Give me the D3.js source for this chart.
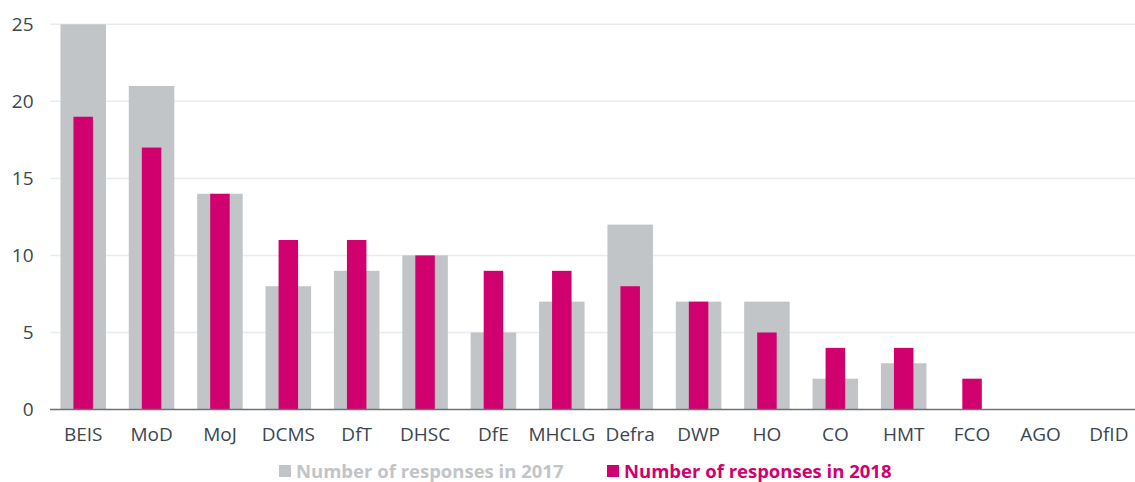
<!DOCTYPE html>
<html>
<head>
<meta charset="utf-8">
<script src="https://cdn.jsdelivr.net/npm/d3@7"></script>
<style>
	body { margin: 0; background: #fff; }
	svg { display: block; font-family: "Open Sans", sans-serif; }
	.tick text { fill: #3b4650; }
</style>
</head>
<body>
<svg id="viz" width="1135" height="482"></svg>
<script>
var departments = ["BEIS", "MoD", "MoJ", "DCMS", "DfT", "DHSC", "DfE", "MHCLG", "Defra", "DWP", "HO", "CO", "HMT", "FCO", "AGO", "DfID"];
var responses2017 = [25, 21, 14, 8, 9, 10, 5, 7, 12, 7, 7, 2, 3, 0, 0, 0];
var responses2018 = [19, 17, 14, 11, 11, 10, 9, 9, 8, 7, 5, 4, 4, 2, 0, 0];
var yTicks = [0, 5, 10, 15, 20, 25];
var seriesNames = ["Number of responses in 2017", "Number of responses in 2018"];

function drawResponsesChart() {
	var svg = d3.select("#viz");
	var margin = { left: 49, top: 24, bottom: 73 };
	var plotBottom = 482 - margin.bottom + 0.5;

	var x = d3.scaleBand().domain(departments).range([margin.left, 1143]).paddingInner(0.334).paddingOuter(0.167);
	var y = d3.scaleLinear().domain([0, 25]).range([plotBottom, margin.top + 0.3]);

	// gridlines
	svg.append("g")
		.selectAll("line")
		.data(yTicks.slice(1))
		.join("line")
		.attr("x1", 50).attr("x2", 1135)
		.attr("y1", function(d) { return y(d); })
		.attr("y2", function(d) { return y(d); })
		.attr("stroke", "#e8ecf0")
		.attr("stroke-width", 1.5);

	// 2017 bars (wide, grey)
	svg.append("g")
		.selectAll("rect")
		.data(departments)
		.join("rect")
		.attr("x", function(d) { return x(d); })
		.attr("width", x.bandwidth())
		.attr("y", function(d, i) { return y(responses2017[i]); })
		.attr("height", function(d, i) { return plotBottom - y(responses2017[i]); })
		.attr("fill", "#c2c5c8");

	// 2018 bars (narrow, pink)
	var pinkW = 19.5;
	svg.append("g")
		.selectAll("rect")
		.data(departments)
		.join("rect")
		.attr("x", function(d) { return x(d) + (x.bandwidth() - pinkW) / 2; })
		.attr("width", pinkW)
		.attr("y", function(d, i) { return y(responses2018[i]); })
		.attr("height", function(d, i) { return plotBottom - y(responses2018[i]); })
		.attr("fill", "#d1006f");

	// y axis labels
	var yAxis = d3.axisLeft(y).tickValues(yTicks).tickSize(0).tickPadding(0);
	svg.append("g")
		.attr("transform", "translate(33.5,0)")
		.call(yAxis)
		.call(function(g) { g.select(".domain").remove(); })
		.selectAll("text")
		.attr("font-size", 19)
		.attr("font-family", "Open Sans, sans-serif");

	// baseline
	svg.append("line")
		.attr("x1", 50).attr("x2", 1135)
		.attr("y1", plotBottom).attr("y2", plotBottom)
		.attr("stroke", "#6b7278")
		.attr("stroke-width", 1.5);

	// x axis labels
	var xAxis = d3.axisBottom(x).tickSize(0).tickPadding(18);
	svg.append("g")
		.attr("transform", "translate(0," + plotBottom + ")")
		.call(xAxis)
		.call(function(g) { g.select(".domain").remove(); })
		.selectAll("text")
		.attr("font-size", 19)
		.attr("font-family", "Open Sans, sans-serif");

	// legend
	var legendItems = [
		{ name: seriesNames[0], color: "#c2c5c8", x: 279 },
		{ name: seriesNames[1], color: "#d1006f", x: 607 }
	];
	var legend = svg.append("g").selectAll("g")
		.data(legendItems)
		.join("g")
		.attr("transform", function(d) { return "translate(" + d.x + ",465)"; });
	legend.append("rect")
		.attr("width", 12).attr("height", 12)
		.attr("fill", function(d) { return d.color; });
	legend.append("text")
		.attr("x", 17).attr("y", 13)
		.attr("font-size", 18.5)
		.attr("font-weight", "bold")
		.attr("fill", function(d) { return d.color; })
		.text(function(d) { return d.name; });
}

drawResponsesChart();
</script>
</body>
</html>
